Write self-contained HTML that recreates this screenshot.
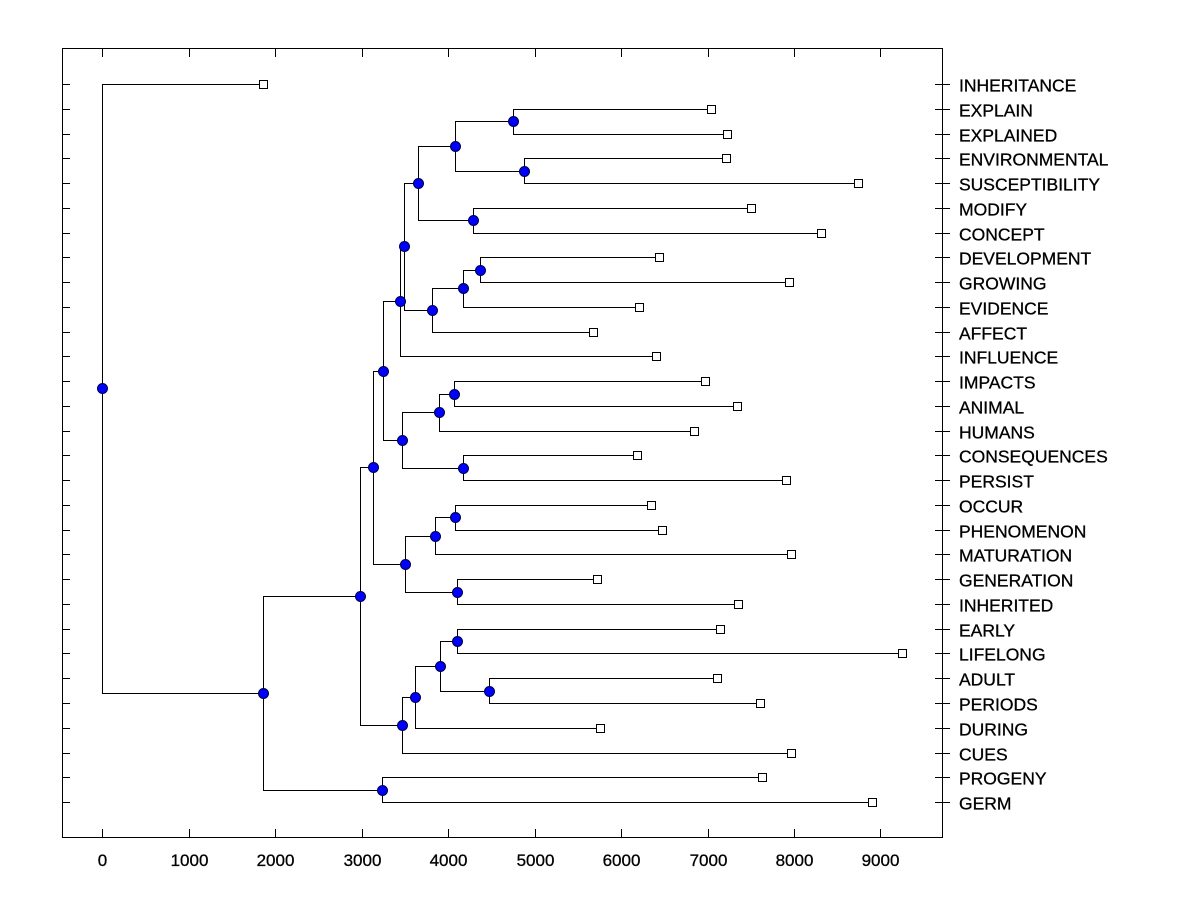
<!DOCTYPE html>
<html><head><meta charset="utf-8"><style>
html,body{margin:0;padding:0;background:#fff;}
svg{display:block;font-family:"Liberation Sans",Arial,sans-serif;}
</style></head><body>
<svg id="chart" width="1200" height="900" viewBox="0 0 1200 900" xmlns="http://www.w3.org/2000/svg">
<rect x="0" y="0" width="1200" height="900" fill="#fff"/>
<rect x="62.5" y="48.5" width="880" height="789" fill="none" stroke="#000" stroke-width="1"/>
<g id="axes"></g><g id="links"></g><g id="marks"></g>
</svg>
<script>
const leafNames = ["INHERITANCE","EXPLAIN","EXPLAINED","ENVIRONMENTAL","SUSCEPTIBILITY","MODIFY","CONCEPT","DEVELOPMENT","GROWING","EVIDENCE","AFFECT","INFLUENCE","IMPACTS","ANIMAL","HUMANS","CONSEQUENCES","PERSIST","OCCUR","PHENOMENON","MATURATION","GENERATION","INHERITED","EARLY","LIFELONG","ADULT","PERIODS","DURING","CUES","PROGENY","GERM"];
const leafValues = [1861,7040,7225,7214,8740,7503,8312,6439,7942,6208,5676,6405,6971,7341,6844,6185,7908,6347,6474,7965,5723,7353,7145,9249,7110,7607,5757,7965,7630,8902];
// merges: [childA, childB]; ids < 30 are leaves, >=30 are previous merges
const mergeChildren = [
[1,2],[3,4],[30,31],[5,6],[32,33],[7,8],[35,9],[36,10],[34,37],[38,11],
[12,13],[40,14],[15,16],[41,42],[39,43],[17,18],[45,19],[20,21],[46,47],[44,48],
[22,23],[24,25],[50,51],[52,26],[53,27],[49,54],[28,29],[55,56],[0,57]
];
const mergeValues = [4751,4879,4081,4289,3653,4370,4173,3815,3491,3445,
4069,3896,4173,3468,3249,4081,3850,4104,3503,3133,
4104,4474,3908,3618,3468,2983,3237,1861,0];
const xTicks = [0,1000,2000,3000,4000,5000,6000,7000,8000,9000];

const NS="http://www.w3.org/2000/svg";
const X = v => 102 + v*0.0865;
const Y = i => 84 + i*24.76;
function el(tag, attrs, parent){const e=document.createElementNS(NS,tag);for(const k in attrs)e.setAttribute(k,attrs[k]);parent.appendChild(e);return e;}
const axes=document.getElementById('axes'), links=document.getElementById('links'), marks=document.getElementById('marks');

xTicks.forEach(t=>{
  const x=Math.round(X(t))+0.5;
  const a=el('line',{x1:x,x2:x,y1:838,y2:829,stroke:'#000'},axes);
  
  
  const b=el('line',{x1:x,x2:x,y1:49,y2:57,stroke:'#000'},axes);
  
  
  const tx=el('text',{x:x,y:866,'text-anchor':'middle','font-size':'17','stroke':'#000','stroke-width':'0.3'},axes);
  tx.textContent=t;
  
  
});
leafNames.forEach((n,i)=>{
  const y=Math.round(Y(i))+0.5;
  const t=el('line',{x1:62,x2:70,y1:y,y2:y,stroke:'#000'},axes);
  
  
  const r=el('line',{x1:935,x2:950,y1:y,y2:y,stroke:'#000'},axes);
  
  
  const lb=el('text',{x:959,y:y+7,'font-size':'17.5','stroke':'#000','stroke-width':'0.3'},axes);
  lb.textContent=n;
  
  
});
const nx=[], ny=[];
leafValues.forEach((v,i)=>{nx[i]=X(v);ny[i]=Y(i);});
mergeChildren.forEach((c,k)=>{
  const id=30+k; nx[id]=X(mergeValues[k]); ny[id]=(ny[c[0]]+ny[c[1]])/2;
});
mergeChildren.forEach((c,k)=>{
  const id=30+k, x=Math.round(nx[id])+0.5;
  const y0=Math.round(ny[c[0]])+0.5, y1=Math.round(ny[c[1]])+0.5;
  const p=el('path',{d:`M${Math.round(nx[c[0]])} ${y0}H${x}V${y1}H${Math.round(nx[c[1]])}`,fill:'none',stroke:'#000','stroke-width':1},links);
  
  
});
leafValues.forEach((v,i)=>{
  const s=el('rect',{x:Math.round(nx[i])-3.5,y:Math.round(ny[i])-3.5,width:8,height:8,fill:'#fff',stroke:'#000'},marks);
  
  
});
mergeChildren.forEach((c,k)=>{
  const id=30+k;
  const d=el('circle',{cx:Math.round(nx[id])+0.5,cy:Math.round(ny[id])+0.5,r:5,fill:'#0000ff',stroke:'#000040','stroke-width':1},marks);
  
  
});
</script>
</body></html>
